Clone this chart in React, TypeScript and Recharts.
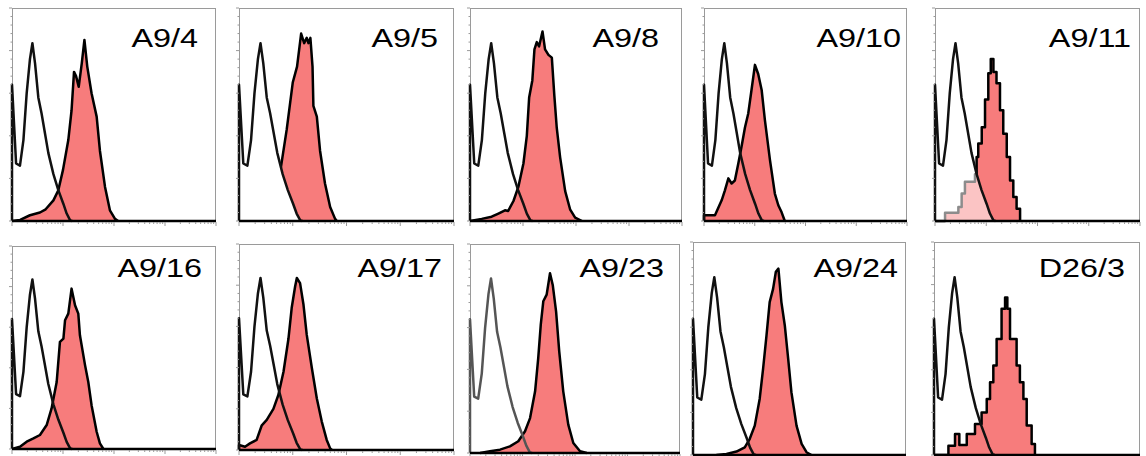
import React from 'react';
import { ComposedChart, Area, XAxis, YAxis } from 'recharts';

// x = position on the 4-decade log axis (0-100), y = % of axis height
const CONTROL = [
  [0, 0], [0, 64], [2, 27], [3.9, 26], [5.6, 38], [7.2, 60], [8.8, 76], [10, 83.5], [11.3, 74],
  [12.9, 58], [14.5, 50.5], [16.2, 41], [17.8, 32], [20.3, 22], [22.7, 14.5], [25.2, 8],
  [26.8, 3.5], [28.5, 0.3], [29.5, 0],
];

const A9_4 = [
  [0, 0], [4, 0.5], [8.8, 2.7], [13.7, 4], [16.5, 5.5], [20.3, 9.7], [22.7, 14.4], [25, 24],
  [27.6, 38], [29.2, 52], [30.4, 70], [31.4, 68], [32.7, 63], [34.2, 74], [35.5, 85], [36.9, 72.5],
  [39, 60], [41.5, 49], [43.1, 33], [45.6, 16], [48, 5], [50.5, 1], [52, 0],
];
const A9_5 = [
  [15, 0], [19, 22], [22.2, 43], [25, 65], [27, 72.5], [28.9, 88], [30.3, 83.5], [31.5, 86],
  [32.3, 83.5], [33.2, 86], [34.2, 72.5], [34.6, 54], [36.2, 49], [37.7, 33], [40, 17.6],
  [42.4, 6.6], [44.7, 1], [45.5, 0],
];
const A9_8 = [
  [0, 0], [5.5, 1], [10.2, 2], [13.4, 3.5], [16.5, 5], [18, 4.7], [20.5, 9.4], [22.8, 16],
  [25.2, 27], [26.8, 40], [27.9, 58], [29.4, 66], [30.4, 80.6], [31.5, 84], [32.6, 82], [34.2, 89],
  [35.4, 80.6], [37, 78], [38.6, 76.7], [39.8, 58.6], [40.9, 44], [42.5, 30], [44.9, 14],
  [47.2, 5.5], [49.6, 1.6], [52.8, 0],
];
const A9_10 = [
  [0, 0], [0, 2.7], [5.4, 2.7], [8.7, 9.7], [10.3, 14.4], [12, 20], [13.6, 17.6], [15.2, 19],
  [16.9, 27], [18.5, 35], [20.2, 44], [21.8, 50.5], [23.4, 61.5], [25.1, 73.3], [26.7, 69],
  [28.4, 61.5], [30, 47.4], [32.5, 28.6], [34.9, 12.9], [36.6, 7.4], [38.2, 4.2], [39.8, 0],
];
const A9_11 = [
  [0, 0], [4.9, 3.9], [11.4, 6.6], [13, 12.9], [14.6, 18.4], [19.5, 22], [20.3, 30], [21.1, 36.4],
  [22.8, 44], [24.4, 57], [26, 69.4], [27.2, 76], [28.5, 70], [30, 64.7], [31.7, 52], [33.3, 41],
  [35, 30], [36.6, 19], [38.2, 11.3], [39.8, 5.8], [41.5, 0],
];
const A9_16 = [
  [0, 0], [3.9, 1.1], [7.2, 3.6], [10.5, 5.2], [13.7, 6.9], [17, 11.8], [19.4, 20], [21.9, 33],
  [23.5, 52.8], [25.2, 54.4], [26, 63.4], [27.6, 66.7], [29.2, 79], [30.9, 70.8], [32.5, 66.7],
  [33.3, 56], [35.8, 41.3], [37.4, 33], [39, 21.6], [41.5, 8.5], [43.1, 2.8], [44.8, 0],
];
const A9_17 = [
  [0, 0], [0, 2.4], [2.8, 1.6], [5.1, 3.2], [8.2, 4.9], [10.6, 12], [12.9, 14.6], [16, 20],
  [18.3, 26.7], [20.7, 38], [23, 54], [24.5, 68.9], [26.1, 79.4], [26.9, 83.5], [28.4, 81],
  [30, 70.5], [31.5, 56], [33.9, 39.7], [36.2, 25], [38.5, 13.8], [40.8, 4.9], [42.4, 0.8], [43.2, 0],
];
const A9_23 = [
  [4.8, 0], [9.5, 0.8], [14.3, 1.6], [19, 3.2], [23, 5.6], [26.2, 10.4], [28.6, 16.7], [31, 29.5],
  [32.5, 45.5], [33.7, 61.4], [34.9, 72.6], [36.5, 75.8], [38.1, 86], [39.4, 80.4], [41, 67.6],
  [42.5, 48.5], [44.4, 29.5], [46.8, 13.6], [49.2, 4.8], [52.4, 0.8], [55.6, 0],
];
const A9_24 = [
  [11, 0], [15.7, 0.5], [20.4, 1.6], [24.3, 3.6], [26.6, 7.5], [29, 13.8], [31.3, 26.3], [32.9, 40.4],
  [34.5, 56], [36, 71.8], [37.6, 78], [38.9, 86], [40.1, 87.5], [41.5, 71.8], [43.1, 60.8],
  [44.7, 45], [46.2, 29.5], [48.6, 13.8], [51, 5.2], [53.3, 1.3], [55.6, 0],
];
const D26_3 = [
  [0, 0], [7, 4.4], [10.2, 9.9], [12.3, 4.7], [15.9, 9.9], [19.9, 14.6], [23.1, 20], [25.6, 26.3],
  [27.2, 34.2], [28.8, 42], [30.4, 54.5], [32.8, 68.7], [34.5, 74], [35.6, 68.7], [36.9, 54.5],
  [40.1, 42], [41.7, 34.2], [43.4, 26.3], [45, 13.8], [47.4, 5.2], [49, 0],
];

const LABELS = ['A9/4', 'A9/5', 'A9/8', 'A9/10', 'A9/11', 'A9/16', 'A9/17', 'A9/23', 'A9/24', 'D26/3'];
const SAMPLES = [A9_4, A9_5, A9_8, A9_10, A9_11, A9_16, A9_17, A9_23, A9_24, D26_3];

// plot box [left, top, width, height] and label anchor [right, baseline]
const BOXES = [
  [12, 8, 204, 213], [239, 8, 215, 213], [470, 8, 212, 213], [704, 8, 203, 213], [935, 8, 205, 213],
  [12, 246, 204, 203], [239, 244, 215, 206], [470, 244, 210, 209], [693, 242, 213, 213], [934, 242, 206, 213],
];
const LABEL_AT = [
  [198, 47], [438, 47], [659, 47], [901, 47], [1131, 47],
  [202, 277], [442, 277], [664, 277], [898, 277], [1125, 277],
];
const STEPPED = [false, false, false, false, true, false, false, false, false, true];
// how the control histogram covers the red one
const CONTROL_FILL = ['none', '#fff', 'none', 'none', 'rgba(255,255,255,0.55)', 'none', 'none', 'none', 'none', 'none'];
const CONTROL_STROKE = ['#111', '#111', '#111', '#111', '#111', '#111', '#111', '#555', '#111', '#111'];

const X_TICKS: number[] = [];
for (let d = 0; d < 4; d++) for (let k = 1; k < 10; k++) X_TICKS.push(25 * (d + Math.log10(k)));
X_TICKS.push(100);
const Y_TICKS = Array.from({ length: 26 }, (_, i) => i * 4);

const RED = '#f77c7c';
const FRAME = '#9a9a9a';
const PAD_L = 6;
const PAD_T = 2;
const PAD_R = 2;
const PAD_B = 6;

const isMajorX = (v: number) => Math.abs(v / 25 - Math.round(v / 25)) < 0.001;

const XTick = (props: any) => {
  const { x, y, payload } = props;
  const len = isMajorX(payload.value) ? 4 : 2;
  return (
    <g>
      <line x1={x} x2={x} y1={y + 1} y2={y + 1 + len} stroke={FRAME} strokeWidth={1} />
    </g>
  );
};

const YTick = (props: any) => {
  const { x, y, payload } = props;
  const len = payload.value % 20 === 0 ? 3 : 1.5;
  return (
    <g>
      <line x1={x - len} x2={x} y1={y} y2={y} stroke={FRAME} strokeWidth={1} />
    </g>
  );
};

function mergeRows(sample: number[][]) {
  const rows: { x: number; control?: number; sample?: number }[] = [];
  CONTROL.forEach(([x, y]) => rows.push({ x, control: y }));
  sample.forEach(([x, y]) => rows.push({ x, sample: y }));
  return rows.sort((a, b) => a.x - b.x);
}

function Panel({ i }: { i: number }) {
  const [left, top, w, h] = BOXES[i];
  const data = mergeRows(SAMPLES[i]);
  return (
    <>
      <div
        style={{
          position: 'absolute',
          left,
          top,
          width: w,
          height: h,
          boxSizing: 'border-box',
          borderTop: `1px solid ${FRAME}`,
          borderRight: `1px solid ${FRAME}`,
          borderLeft: `1px solid ${FRAME}`,
        }}
      />
      <div style={{ position: 'absolute', left: left - PAD_L, top: top - PAD_T }}>
        <ComposedChart
          width={w + PAD_L + PAD_R}
          height={h + PAD_T + PAD_B}
          data={data}
          margin={{ top: PAD_T, right: PAD_R, bottom: 0, left: 0 }}
        >
          <XAxis
            type="number"
            dataKey="x"
            domain={[0, 100]}
            ticks={X_TICKS}
            interval={0}
            tick={XTick}
            tickLine={false}
            tickSize={0}
            tickMargin={0}
            height={PAD_B}
            axisLine={{ stroke: '#000', strokeWidth: 2.5 }}
          />
          <YAxis
            type="number"
            domain={[0, 100]}
            ticks={Y_TICKS}
            interval={0}
            width={PAD_L}
            tick={YTick}
            tickLine={false}
            tickSize={0}
            tickMargin={0}
            axisLine={false}
          />
          <Area
            dataKey="sample"
            type={STEPPED[i] ? 'stepAfter' : 'linear'}
            connectNulls
            stroke="#000"
            strokeWidth={2.5}
            strokeLinejoin="round"
            fill={RED}
            fillOpacity={1}
            dot={false}
            activeDot={false}
            isAnimationActive={false}
          />
          <Area
            dataKey="control"
            type="linear"
            connectNulls
            stroke={CONTROL_STROKE[i]}
            strokeWidth={2.5}
            strokeLinejoin="round"
            fill={CONTROL_FILL[i]}
            fillOpacity={1}
            dot={false}
            activeDot={false}
            isAnimationActive={false}
          />
        </ComposedChart>
      </div>
    </>
  );
}

export default function App() {
  return (
    <div style={{ position: 'absolute', left: 0, top: 0, width: 1146, height: 456, background: '#fff' }}>
      {LABELS.map((_, i) => (
        <Panel key={i} i={i} />
      ))}
      <svg width={1146} height={456} style={{ position: 'absolute', left: 0, top: 0, pointerEvents: 'none' }}>
        {LABELS.map((label, i) => (
          <text
            key={label}
            transform={`translate(${LABEL_AT[i][0]},${LABEL_AT[i][1]}) scale(1.27,1)`}
            textAnchor="end"
            fontFamily="Arial, 'Liberation Sans', sans-serif"
            fontSize={25.5}
            fill="#000"
          >
            {label}
          </text>
        ))}
      </svg>
    </div>
  );
}
